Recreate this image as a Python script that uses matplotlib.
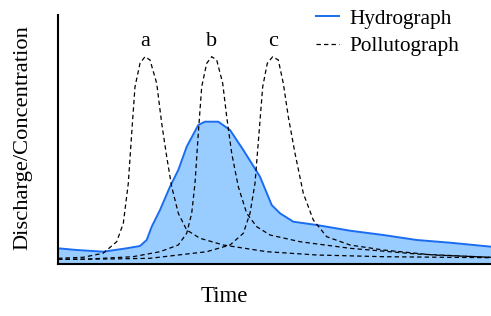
import matplotlib
matplotlib.use("Agg")
import matplotlib.pyplot as plt

# Hydrograph (time, discharge) in arbitrary units
hydro_t = [0, 18.7, 45.3, 68.7, 82, 88.7, 93.7, 102, 112, 120.3, 128.7, 140.3, 147,
           160.3, 172, 185.3, 202, 213.7, 222, 235.3, 258.7, 292, 325.3, 358.7, 392, 433]
hydro_q = [15.7, 14, 12.3, 15.7, 18, 24, 37.3, 54, 77.3, 94, 117.3, 139, 142.3,
           142.3, 134, 114, 87.3, 59, 50.7, 42.3, 39, 33.3, 29, 24, 21.3, 17.3]

# Pollutographs (time, concentration)
a_t = [0, 25, 45, 58.7, 65.3, 70.3, 73.7, 77, 82, 87, 92, 98.7, 103.7, 108.7, 113.7,
       120.3, 128.7, 142, 165.3, 208.7, 258.7, 325.3, 433]
a_c = [5.7, 6.7, 10.7, 22.3, 40.7, 80.7, 130.7, 177.3, 200.7, 207.3, 204, 180.7, 140.7,
       107.3, 77.3, 50.7, 34, 25.7, 19, 12.3, 9, 7.3, 6.3]

b_t = [0, 25, 75, 102, 120.3, 128.7, 133.7, 137, 140.3, 143.7, 148.7, 153.7, 158.7,
       164.7, 168.7, 173.7, 180.3, 188.7, 198.7, 212, 242, 292, 358.7, 433]
b_c = [4.7, 4.7, 7.3, 12.3, 19, 30.7, 50.7, 80.7, 130.7, 177.3, 200.7, 207.3, 204,
       180.7, 147.3, 110.7, 77.3, 50.7, 37.3, 29, 22.3, 15.7, 10, 6.7]

c_t = [0, 50, 92, 148.7, 172, 185.3, 192, 197, 201, 204.7, 209.3, 214.7, 220.3, 225.3,
       230.3, 237, 245.3, 255.3, 268.7, 292, 325.3, 375.3, 433]
c_c = [4.7, 5, 5.7, 12.3, 19, 30.7, 50.7, 80.7, 130.7, 177.3, 200.7, 207.3, 204, 180.7,
       147.3, 110.7, 70.7, 44, 27.3, 19, 14, 9, 6.7]

peak_labels = ["a", "b", "c"]

plt.rcParams['font.family'] = ['Liberation Serif', 'DejaVu Serif']

W, H = 491, 316
fig = plt.figure(figsize=(W/100, H/100), dpi=100)
ax = fig.add_axes([58/W, 52/H, 433/W, 249/H])

ax.fill_between(hydro_t, 0, hydro_q, color='#99ccff', lw=0)
ax.plot(hydro_t, hydro_q, color='#1a6cf0', lw=1.4, label='Hydrograph')
for i, (t, c) in enumerate([(a_t, a_c), (b_t, b_c), (c_t, c_c)]):
    ax.plot(t, c, color='black', lw=0.9, ls=(0, (3.5, 2.5)),
            label='Pollutograph' if i == 0 else None)
    k = c.index(max(c))
    ax.text(t[k], max(c) + 11, peak_labels[i], ha='center', va='baseline', fontsize=16)

ax.set_xlim(0, 433)
ax.set_ylim(0, 249)
ax.set_xticks([])
ax.set_yticks([])
for s in ['top', 'right']:
    ax.spines[s].set_visible(False)
for s in ['left', 'bottom']:
    ax.spines[s].set_linewidth(1.5)

fig.text(224/W, 1 - 296/H, 'Time', fontsize=16.5, ha='center', va='center')
fig.text(23/W, 1 - 138/H, 'Discharge/Concentration', fontsize=16.2, rotation=90,
         ha='center', va='center')

leg = fig.legend(*ax.get_legend_handles_labels(), loc='upper left',
                 bbox_to_anchor=(316/W, 1 - 9/H), frameon=False,
                 fontsize=15.3, handlelength=1.1, handletextpad=0.45, labelspacing=0.35,
                 borderaxespad=0, borderpad=0)

fig.savefig('out.png', dpi=100)
